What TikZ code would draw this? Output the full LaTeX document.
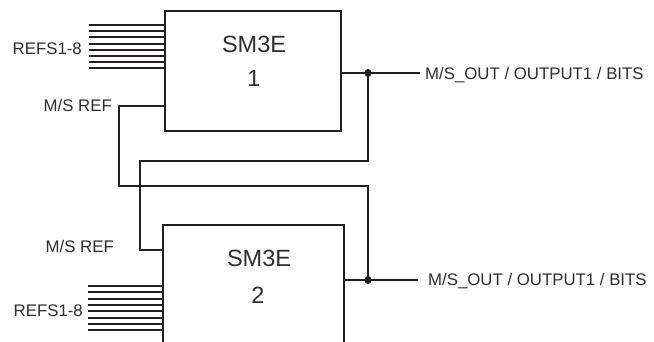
\documentclass[tikz,border=0pt]{standalone}
\usepackage{fontspec}
\usetikzlibrary{shapes.geometric}
\setmainfont{Liberation Sans}
\definecolor{ink}{HTML}{231F20}
\definecolor{txt}{HTML}{2E2E2E}
\begin{document}
\begin{tikzpicture}[x=1pt,y=-1pt,
  wire/.style={draw=ink,line width=2pt},
  boxshape/.style={draw=ink,line width=2pt,rectangle,inner sep=0pt},
  lbl/.style={text=txt,font=\fontsize{16.8}{18}\selectfont,inner sep=0pt},
  big/.style={text=txt,font=\fontsize{23.5}{26}\selectfont,inner sep=0pt},
  junction/.style={ellipse,fill=ink,inner sep=0pt,minimum width=7pt,minimum height=8pt}]
\useasboundingbox (0,0) rectangle (654,341);
\clip (0,0) rectangle (654,341);
% boxes
\node[boxshape,minimum width=176pt,minimum height=120pt] (box1) at (253,71) {};
\node[boxshape,minimum width=181pt,minimum height=175pt] (box2) at (253.5,312.5) {};
\node[big] (t1a) at (254,44) {SM3E};
\node[big] (t1b) at (254,78) {1};
\node[big] (t2a) at (259,258) {SM3E};
\node[big] (t2b) at (258,295) {2};
% REFS lines
\foreach \i in {0,...,7} {
  \coordinate (ra\i) at (89,{25+6.2*\i});
  \draw[wire] (ra\i) -- (box1.west |- ra\i);
  \coordinate (rb\i) at (88,{286+6.3*\i});
  \draw[wire] (rb\i) -- (box2.west |- rb\i);
}
\node[lbl,anchor=east] (refs1) at (82,49) {REFS1-8};
\node[lbl,anchor=east] (refs2) at (83,311) {REFS1-8};
\node[lbl,anchor=east] (ms1) at (112,105) {M/S REF};
\node[lbl,anchor=east] (ms2) at (114,246) {M/S REF};
% outputs
\node[junction] (dot1) at (368,73) {};
\node[junction] (dot2) at (368,280) {};
\coordinate (o1) at (420,73);
\coordinate (o2) at (418,280);
\draw[wire] (box1.east |- dot1) -- (o1);
\draw[wire] (box2.east |- dot2) -- (o2);
\node[lbl,anchor=west] (out1) at (425,75) {M/S\_OUT / OUTPUT1 / BITS};
\node[lbl,anchor=west] (out2) at (428,281) {M/S\_OUT / OUTPUT1 / BITS};
% cross connections
\coordinate (msa) at (165,106);
\draw[wire] (box1.west |- msa) -- (119,106) -- (119,186) -- (368,186) -- (dot2.center);
\coordinate (msb) at (163,250);
\draw[wire] (dot1.center) -- (368,161) -- (140,161) -- (140,250) -- (box2.west |- msb);
\end{tikzpicture}
\end{document}
